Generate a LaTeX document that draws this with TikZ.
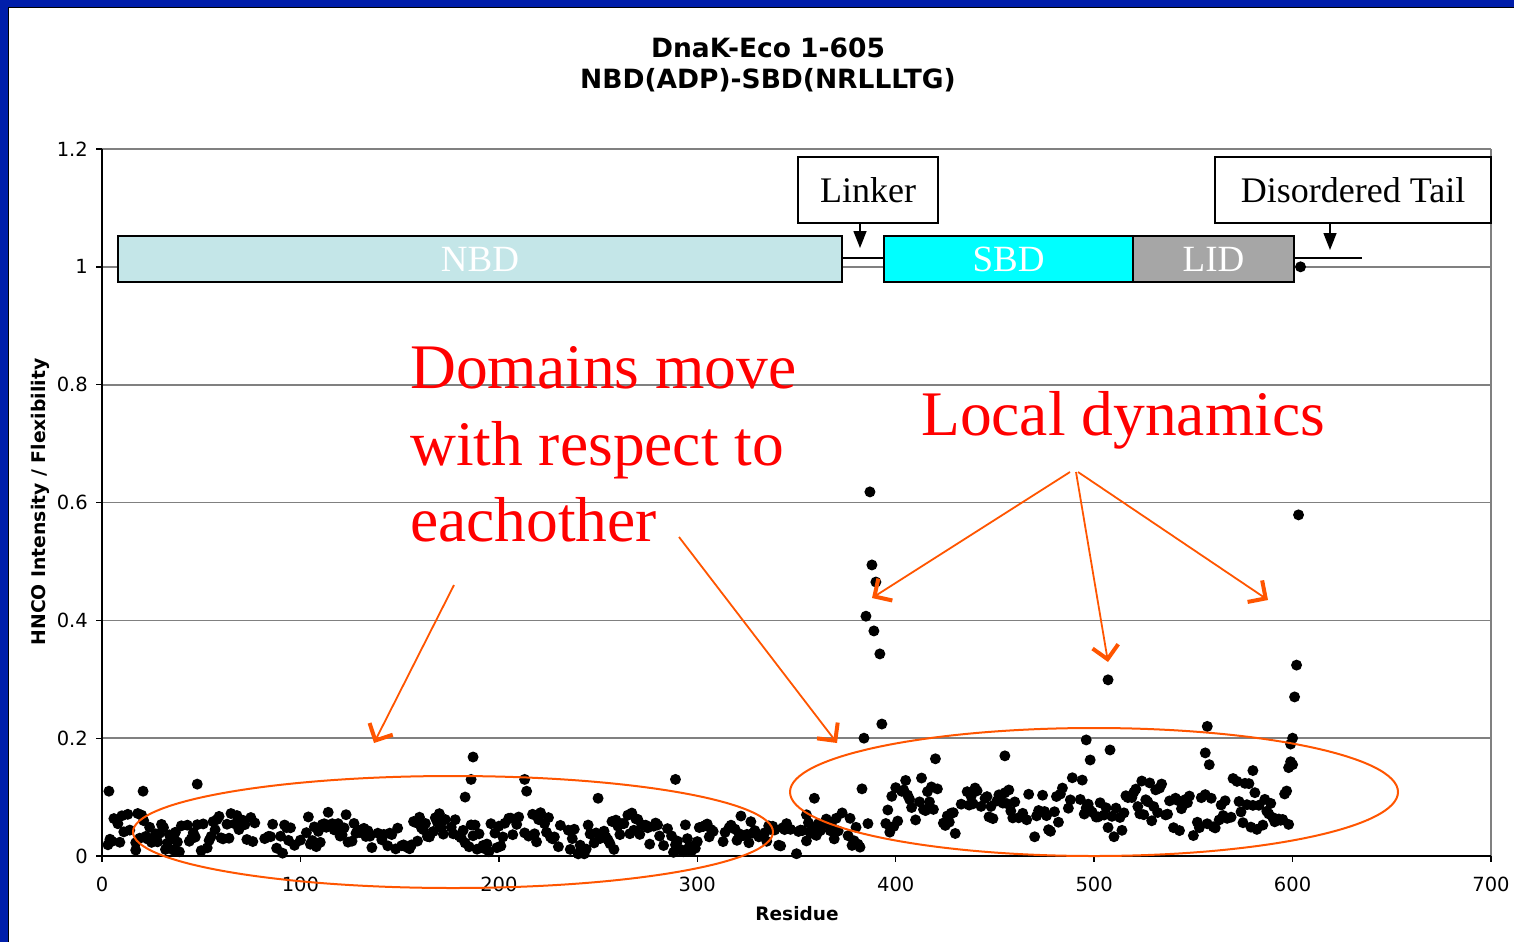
\documentclass[tikz,border=0pt]{standalone}
\usepackage{fontspec}
\setmainfont{Liberation Serif}
\newfontfamily\verd{DejaVu Sans}
\usetikzlibrary{arrows.meta}
\definecolor{bordblue}{RGB}{0,30,170}
\definecolor{myorange}{RGB}{255,85,0}
\definecolor{nbdc}{RGB}{196,230,232}
\definecolor{lidc}{RGB}{166,166,166}
\definecolor{sbdc}{RGB}{0,255,255}
\definecolor{gridc}{RGB}{128,128,128}
\begin{document}
\begin{tikzpicture}[x=1pt,y=-1pt,
  gridline/.style={gridc,line width=1.6pt},
  axisline/.style={black,line width=1.4pt},
  ticklab/.style={font=\verd\fontsize{19.5}{22}\selectfont,inner sep=0pt},
  dbox/.style={draw,line width=2pt,minimum height=46pt,inner sep=0pt,text=white,font=\fontsize{37}{37}\selectfont},
  callbox/.style={draw,line width=1.5pt,fill=white,minimum height=66pt,inner sep=0pt,font=\fontsize{36}{36}\selectfont},
  redtxt/.style={text=red,anchor=base west,inner sep=0pt,font=\fontsize{63.5}{63}\selectfont},
  orarrow/.style={myorange,line width=1.8pt,-{Straight Barb[length=13pt,width=26pt,line width=4pt]}},
  calarrow/.style={black,line width=1.5pt,-{Triangle[length=17pt,width=13pt]}},
  dot/.style={black}
]
\useasboundingbox (0,0) rectangle (1514,942);
\fill[bordblue] (0,0) rectangle (1514,942);
\fill[white] (8,7) rectangle (1514,942);
\draw[black,line width=0.8pt] (8,942) -- (8,7) -- (1514,7);

% title
\node[align=center,font=\verd\bfseries\fontsize{26.5}{31}\selectfont] (title) at (768,65) {DnaK-Eco 1-605\\NBD(ADP)-SBD(NRLLLTG)};

% grid
\foreach \yy/\lab in {738.2/0.2,620.3/0.4,502.5/0.6,384.7/0.8,266.8/1,149/1.2}{
  \draw[gridline] (102,\yy) -- (1491,\yy);
  \draw[axisline] (96,\yy) -- (102,\yy);
  \node[ticklab,anchor=east] at (88,\yy) {\lab};
}
\node[ticklab,anchor=east] at (88,856) {0};
\draw[gridline] (1491,149) -- (1491,856);
\draw[axisline] (96,856) -- (1491,856);
\draw[axisline] (102,149) -- (102,856);
\foreach \i in {0,...,7}{
  \pgfmathsetmacro\xx{102+198.43*\i}
  \draw[axisline] (\xx,856) -- (\xx,862);
  \pgfmathtruncatemacro\lab{100*\i}
  \node[ticklab] at (\xx,884) {\lab};
}
\node[font=\verd\bfseries\fontsize{18.5}{20}\selectfont] (xlab) at (797,914) {Residue};
\node[rotate=90,font=\verd\bfseries\fontsize{18.8}{20}\selectfont] (ylab) at (40,502) {HNCO Intensity / Flexibility};

% data
\pgfmathsetseed{4711}
\foreach \r in {3,...,380}{
  \pgfmathsetmacro\k{rnd}
  \pgfmathsetmacro\v{0.01+0.01*sin(\r*7)+0.055*rnd}
  \ifdim\k pt>0.25pt
    \fill[dot] ({102+1.9843*\r},{856-589.17*\v}) circle[radius=5.5pt];
  \fi
}
\foreach \r in {395,...,598}{
  \pgfmathsetmacro\k{rnd}
  \pgfmathsetmacro\v{0.045+0.015*sin(\r*9)+0.075*rnd}
  \ifdim\k pt>0.2pt
    \fill[dot] ({102+1.9843*\r},{856-589.17*\v}) circle[radius=5.5pt];
  \fi
}
\foreach \r/\v in {3.5/0.11,20.7/0.11,48/0.122,187/0.168,186/0.13,213/0.13,289/0.13,250/0.098,183/0.1,214/0.11,
  387/0.618,388/0.494,390/0.465,385/0.407,389/0.382,392/0.343,393/0.224,384/0.2,383/0.114,
  507/0.299,603/0.579,602/0.324,601/0.27,600/0.2,557/0.22,496/0.197,508/0.18,604/1.0,
  599/0.16,598/0.15,600/0.155,455/0.17,420/0.165,359/0.098,556/0.175,558/0.155,580/0.145,498/0.163,
  381/0.02,382/0.015,378/0.018,386/0.055,355/0.07,360/0.035,599/0.19,17/0.01,36/0.01}{
  \fill[dot] ({102+1.9843*\r},{856-589.17*\v}) circle[radius=5.5pt];
}

% domain graphic
\node[dbox,fill=nbdc,minimum width=724pt] (nbd) at (480,259) {NBD};
\node[dbox,fill=sbdc,minimum width=249pt] (sbd) at (1008.5,259) {SBD};
\node[dbox,fill=lidc,minimum width=161pt] (lid) at (1213.5,259) {LID};
\coordinate (tailend) at (1362,258);
\draw[line width=2pt] ([yshift=1pt]nbd.east) -- ([yshift=1pt]sbd.west);
\draw[line width=2pt] ([yshift=1pt]lid.east) -- (tailend);
\node[callbox,minimum width=140pt] (linker) at (868,190) {Linker};
\node[callbox,minimum width=276pt] (tail) at (1353,190) {Disordered Tail};
\coordinate (lka) at (860,248);
\coordinate (tla) at (1330,250);
\draw[calarrow] (linker.south -| lka) -- (lka);
\draw[calarrow] (tail.south -| tla) -- (tla);

% annotations
\node[redtxt] (dom1) at (410,388) {Domains move};
\node[redtxt] (dom2) at (410,465) {with respect to};
\node[redtxt] (dom3) at (410,541) {eachother};
\node[redtxt] (loc) at (921,435) {Local dynamics};

\draw[myorange,line width=2pt] (453,832) ellipse [x radius=320pt,y radius=56pt];
\draw[myorange,line width=2pt] (1094,792) ellipse [x radius=304pt,y radius=64pt];

\coordinate (a1s) at (454,585); \coordinate (a1e) at (374,743);
\coordinate (a2s) at (679,537); \coordinate (a2e) at (837,743);
\coordinate (b0) at (1076,472);
\coordinate (b1e) at (872,598);
\coordinate (b2e) at (1108,662);
\coordinate (b3e) at (1268,600);
\draw[orarrow] (a1s) -- (a1e);
\draw[orarrow] (a2s) -- (a2e);
\draw[orarrow] ([xshift=-6pt]b0) -- (b1e);
\draw[orarrow] (b0) -- (b2e);
\draw[orarrow] ([xshift=2pt]b0) -- (b3e);
\end{tikzpicture}
\end{document}
